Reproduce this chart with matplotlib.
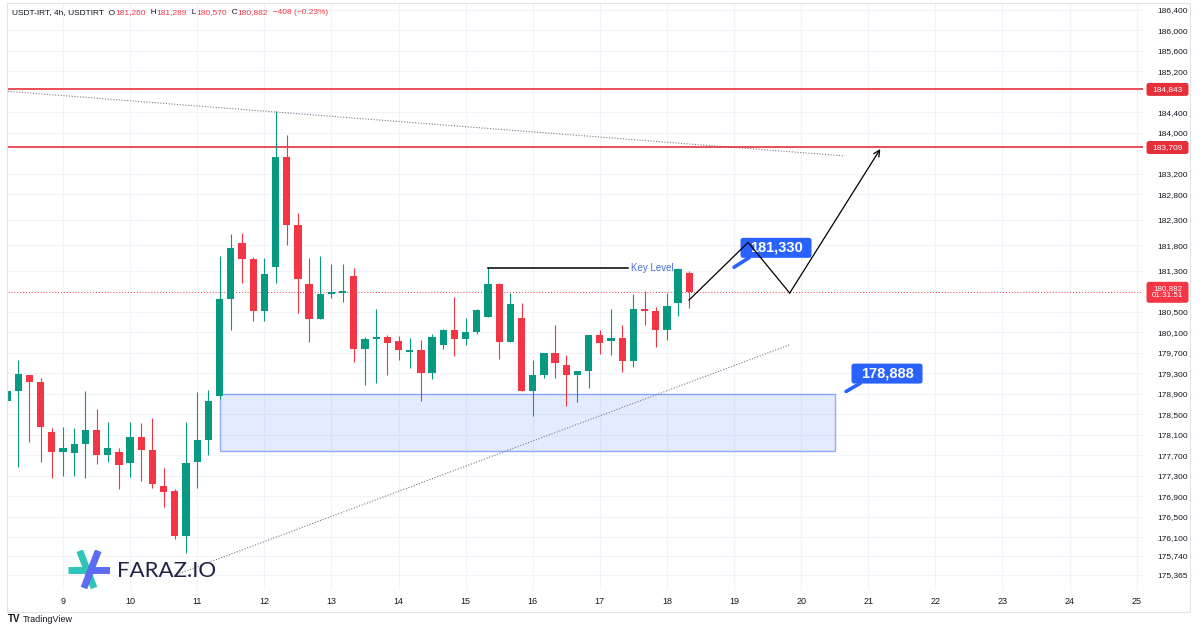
import matplotlib
matplotlib.use("Agg")
import matplotlib.pyplot as plt
import matplotlib.transforms as mtransforms
from matplotlib.patches import Rectangle, FancyBboxPatch

plt.rcParams['font.family'] = ['Liberation Sans', 'DejaVu Sans']

# USDT-IRT 4h candles, first one opens on the 8th at 04:00
opens = [178760, 178950, 179260, 179130, 178160, 177760, 177740, 177930, 178200, 177700,
         177760, 177540, 178050, 177800, 177110, 177010, 176130, 177560, 178000, 178860,
         180750, 181840, 181540, 180520, 181370, 183530, 182190, 181050, 180370, 180850,
         180860, 181200, 179770, 179970, 180010, 179940, 179710, 179760, 179300, 179860,
         180140, 179970, 180100, 180400, 181050, 179920, 180380, 178950, 179260, 179700,
         179470, 179260, 179350, 180050, 179940, 179990, 179540, 180550, 180520, 180150,
         180670, 181260]
highs = [178960, 179570, 179270, 179210, 178240, 178250, 178230, 178950, 178610, 178350,
         177850, 178350, 178340, 178420, 177450, 177050, 178350, 178940, 178970, 181590,
         182020, 182040, 181570, 181550, 184420, 183960, 182430, 181550, 181590, 181430,
         181430, 181350, 180010, 180550, 180050, 180030, 179990, 179960, 180070, 180160,
         180800, 180380, 180550, 181370, 181060, 180860, 180680, 179570, 179700, 180240,
         179660, 179340, 180050, 180150, 180550, 180250, 180840, 180910, 180600, 180860,
         181350, 181289]
lows = [178750, 177470, 177960, 177560, 177250, 177290, 177290, 177250, 177530, 177560,
        177050, 177280, 177190, 177060, 176690, 176060, 175800, 177060, 177700, 178800,
        180150, 181070, 180320, 180330, 181070, 181800, 180470, 179920, 180370, 180780,
        180690, 179530, 179070, 179110, 179260, 179570, 179400, 178760, 179190, 179770,
        179630, 179860, 180070, 180400, 179580, 179920, 178950, 178470, 179200, 179210,
        178670, 178740, 179020, 179680, 179650, 179330, 179430, 180250, 179810, 179960,
        180420, 180570]
closes = [178950, 179290, 179130, 178250, 177760, 177850, 177930, 178200, 177700, 177850,
          177510, 178050, 177800, 177140, 176980, 176130, 177540, 178000, 178760, 180750,
          181750, 181540, 180520, 181230, 183530, 182190, 181150, 180370, 180850, 180880,
          180900, 179770, 179970, 180000, 179890, 179750, 179760, 179300, 180000, 180140,
          179970, 180100, 180540, 181050, 179920, 180650, 178950, 179270, 179700, 179500,
          179260, 179340, 180050, 179900, 179990, 179540, 180550, 180520, 180150, 180620,
          181340, 180882]
first_open_day = 8 + 4 / 24

day_ticks = list(range(9, 26))
# labels hidden behind the level tags are left out
price_ticks = [186400, 186000, 185600, 185200, 184400, 184000, 183200,
               182800, 182300, 181800, 181300, 180500, 180100, 179700, 179300, 178900,
               178500, 178100, 177700, 177300, 176900, 176500, 176100, 175740, 175365]

resistance_levels = [184843, 183709]
last_price = 180882
countdown = "01:31:51"
key_level = 181365
key_level_days = [15.333, 17.42]
zone_days = [11.34, 20.505]
zone_prices = [177780, 178888]
upper_trend_days, upper_trend_prices = [8.18, 20.65], [184805, 183544]
lower_trend_days, lower_trend_prices = [10.62, 19.83], [175338, 179858]
path_days = [18.33, 19.21, 19.83, 21.18]
path_prices = [180731, 181856, 180867, 183680]
callout_values = [181330, 178888]
callout_days = [19.626, 21.28]
callout_prices = [181750, 179295]
callout_tip_days = [19.0, 20.67]
callout_tip_prices = [181371, 178946]

header = [("USDT-IRT, 4h, USDTIRT  O", "#131722"), ("181,260", "#f23645"),
          ("  H", "#131722"), ("181,289", "#f23645"), ("  L", "#131722"),
          ("180,570", "#f23645"), ("  C", "#131722"), ("180,882", "#f23645"),
          ("  \u2212408 (\u22120.23%)", "#f23645")]

UP, DOWN = '#089981', '#f23645'
BLUE = '#2962ff'

fig = plt.figure(figsize=(12, 6.3), dpi=100)
ax = fig.add_axes([8 / 1200, 1 - 590 / 630, (1143 - 8) / 1200, 587 / 630])
for s in ax.spines.values():
    s.set_visible(False)

# grid
ax.set_xticks(day_ticks)
ax.set_xticklabels([str(d) for d in day_ticks])
ax.set_yticks(price_ticks)
ax.set_yticklabels([f"{v:,}" for v in price_ticks])
ax.yaxis.tick_right()
ax.tick_params(axis='both', length=0, colors='#131722')
ax.tick_params(axis='x', labelsize=6.5, pad=5)
ax.tick_params(axis='y', labelsize=6, pad=10)
ax.grid(True, color='#f0f3fa', lw=0.8)
ax.set_axisbelow(True)

# demand zone
ax.add_patch(Rectangle((zone_days[0], zone_prices[0]), zone_days[1] - zone_days[0],
                       zone_prices[1] - zone_prices[0], fc=(0.16, 0.38, 1.0, 0.12),
                       ec=(0.16, 0.38, 1.0, 0.5), lw=1, zorder=1))

# trendlines
ax.plot(upper_trend_days, upper_trend_prices, color='#787b86', lw=0.8, ls=(0, (1, 1.5)), zorder=2)
ax.plot(lower_trend_days, lower_trend_prices, color='#787b86', lw=0.8, ls=(0, (1, 1.5)), zorder=2)

# horizontal levels
for lvl in resistance_levels:
    ax.axhline(lvl, color='#e5303c', lw=1.2, zorder=2)
ax.axhline(last_price, color=DOWN, lw=0.7, ls=(0, (1, 2)), zorder=2)

# candles
w = 0.65 / 6
for i, (o, h, l, c) in enumerate(zip(opens, highs, lows, closes)):
    x = first_open_day + i / 6
    col = UP if c >= o else DOWN
    ax.vlines(x, l, h, color=col, lw=0.8, zorder=3)
    ax.bar(x, max(abs(c - o), 30), bottom=min(o, c), width=w, color=col, zorder=4)

# key level
ax.plot(key_level_days, [key_level, key_level], color='black', lw=1.1, zorder=5)
ax.text(key_level_days[1] + 0.05, key_level, "Key Level", color='#4a6fd6', fontsize=7,
        va='center', ha='left', zorder=5)


def tag(x, y, base, dx, wpx, hpx, fc, label, size, weight='normal'):
    tr = fig.dpi_scale_trans + mtransforms.ScaledTranslation(x, y, base)
    ax.add_patch(FancyBboxPatch(((dx - wpx / 2) / 100, -hpx / 200), wpx / 100, hpx / 100,
                                boxstyle='round,pad=0,rounding_size=0.025', fc=fc, ec='none',
                                transform=tr, clip_on=False, zorder=8))
    ax.text(dx / 100, 0, label, transform=tr, ha='center', va='center', color='white',
            fontsize=size, fontweight=weight, clip_on=False, zorder=9, linespacing=1.05)


# blue callouts
for v, xd, yp, tx, ty in zip(callout_values, callout_days, callout_prices,
                             callout_tip_days, callout_tip_prices):
    ax.plot([tx, xd - 0.4], [ty, yp - 190], color=BLUE, lw=2.6, solid_capstyle='round', zorder=7)
    tag(xd, yp, ax.transData, 0, 71, 20, BLUE, f"{v:,}", 10.5, 'bold')

# projected path
ax.plot(path_days[:3], path_prices[:3], color='black', lw=0.9, zorder=10)
ax.annotate('', xy=(path_days[3], path_prices[3]), xytext=(path_days[2], path_prices[2]),
            arrowprops=dict(arrowstyle='->', color='black', lw=0.9, shrinkA=0, shrinkB=0,
                            mutation_scale=11), zorder=10)

# price scale tags
blend = mtransforms.blended_transform_factory(ax.transAxes, ax.transData)
for lvl in resistance_levels:
    tag(1.0, lvl, blend, 24.5, 42, 13, '#e5303c', f"{lvl:,}", 6)
tag(1.0, last_price, blend, 24.5, 42, 21, DOWN, f"{last_price:,}\n{countdown}", 5.8)

ax.set_xlim(8.18, 25.095)
ax.set_ylim(175070, 186530)

# header
r = fig.canvas.get_renderer()
hx = 12 / 1200
for s, c in header:
    t = fig.text(hx, 1 - 13 / 630, s, color=c, fontsize=6, va='center', ha='left')
    hx = t.get_window_extent(renderer=r).x1 / fig.bbox.width

# chart frame and footer
fig.add_artist(Rectangle((7 / 1200, 1 - 612 / 630), 1183 / 1200, 609 / 630,
                         transform=fig.transFigure, fill=False, ec='#e0e3eb', lw=0.8))
fig.text(8 / 1200, 1 - 619 / 630, "TV", fontsize=7, fontweight='bold', color='#131722', va='center')
fig.text(23 / 1200, 1 - 619 / 630, "TradingView", fontsize=6.5, color='#131722', va='center')

# FARAZ.IO watermark
icon = fig.add_axes([68 / 1200, 1 - 590 / 630, 42 / 1200, 40 / 630])
icon.set_xlim(0, 1)
icon.set_ylim(0, 1)
icon.axis('off')
icon.plot([0.0, 0.55], [0.5, 0.5], color='#2ec4b6', lw=5, solid_capstyle='butt')
icon.plot([0.28, 0.62], [0.98, 0.05], color='#2ec4b6', lw=5, solid_capstyle='butt')
icon.plot([0.72, 0.38], [0.98, 0.05], color='#5b6cf0', lw=5, solid_capstyle='butt')
icon.plot([0.55, 1.0], [0.5, 0.5], color='#5b6cf0', lw=5, solid_capstyle='butt')
fig.text(117 / 1200, 1 - 571 / 630, "FARAZ.IO", fontsize=16, color='#1f2344', va='center',
         family=['Lato', 'DejaVu Sans'])

fig.savefig("out.png", dpi=100)
